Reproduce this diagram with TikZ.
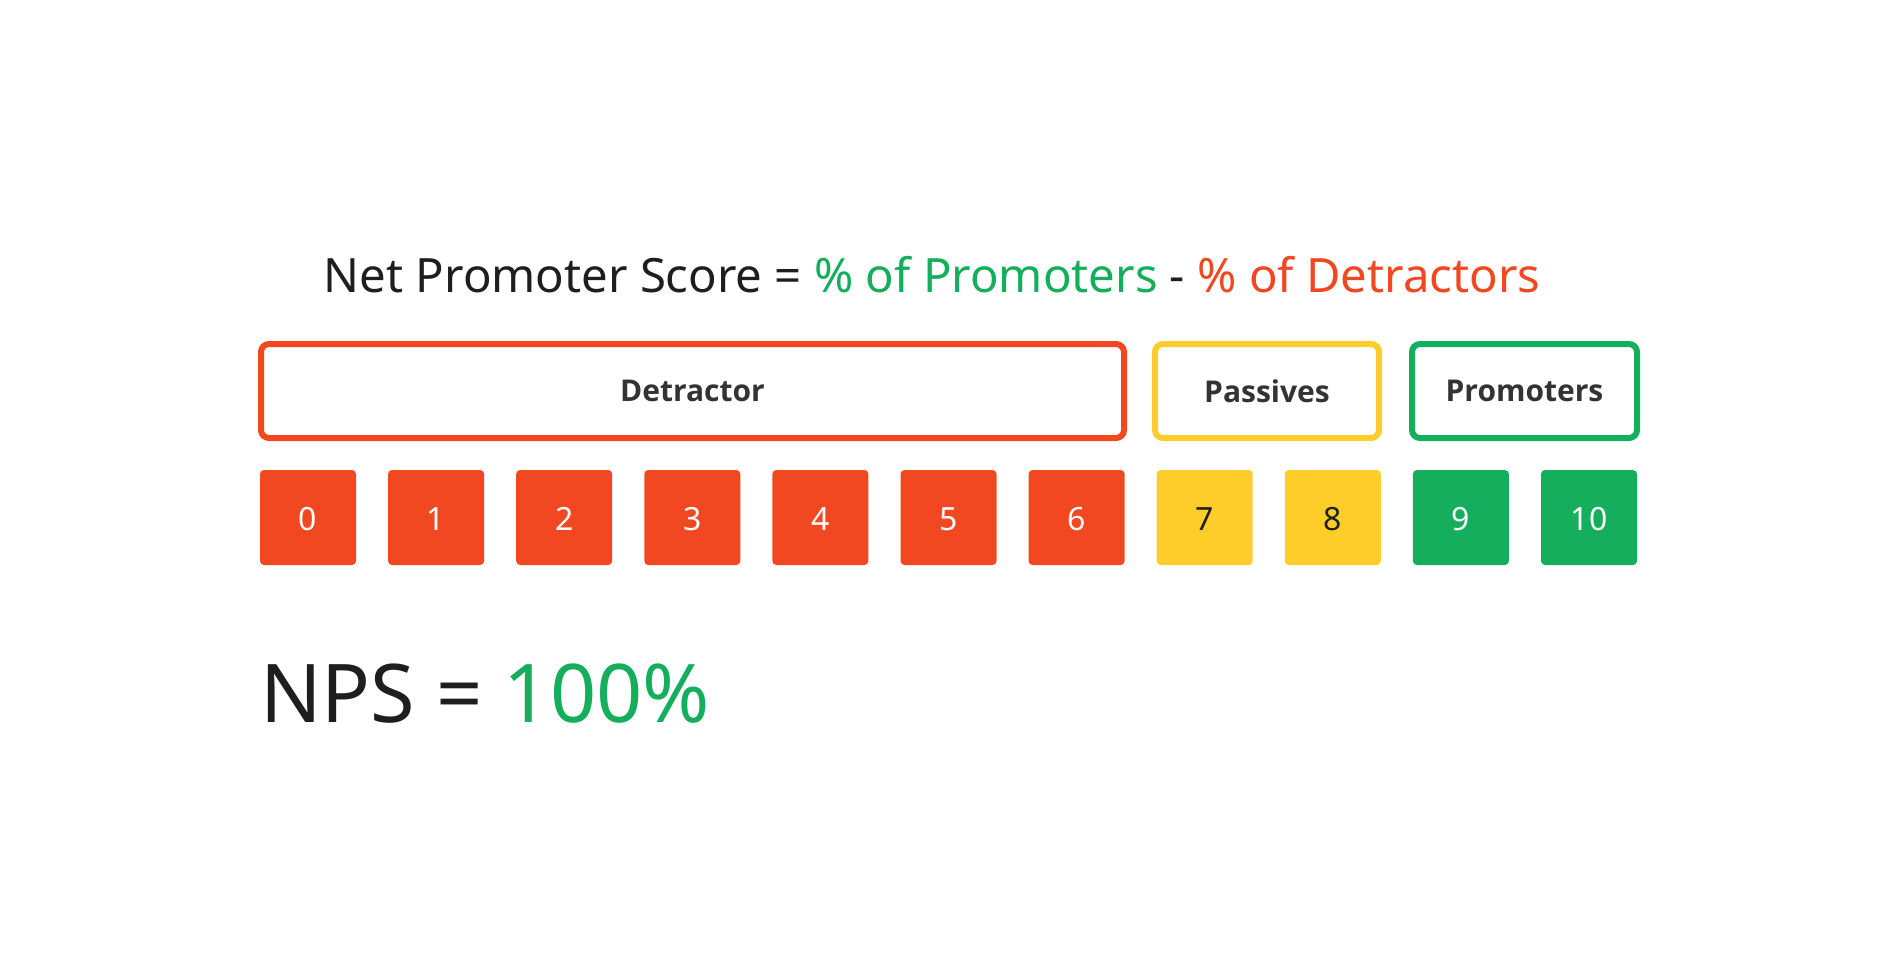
\documentclass[tikz,border=0pt]{standalone}
\usepackage{fontspec}
\setmainfont{Noto Sans}
\newfontfamily\lblfont{Open Sans}
\definecolor{npsred}{HTML}{F24822}
\definecolor{npsyellow}{HTML}{FFCD29}
\definecolor{npsgreen}{HTML}{14AE5C}
\definecolor{npsdark}{HTML}{1E1E1E}
\definecolor{npslabel}{HTML}{333333}
\tikzset{
  groupbox/.style={draw=#1, line width=6pt, rounded corners=8pt, fill=white, inner sep=0pt, text=npslabel, font=\fontsize{30}{36}\lblfont\bfseries},
  tile/.style={fill=#1, rounded corners=4pt, minimum width=96pt, minimum height=95pt, inner sep=0pt, text depth=0pt, font=\fontsize{32}{36}\selectfont},
}
\begin{document}
\begin{tikzpicture}[x=1pt,y=-1pt]
\useasboundingbox[fill=white] (0,0) rectangle (1896,978);
\node[anchor=base, text=npsdark, font=\fontsize{47.3}{56}\selectfont] (title) at (932,292)
  {Net Promoter Score = \textcolor{npsgreen}{\% of Promoters} - \textcolor{npsred}{\% of Detractors}};
\node[groupbox=npsred, minimum width=863pt, minimum height=94pt] (det) at (692.5,391) {Detractor};
\node[groupbox=npsyellow, minimum width=224pt, minimum height=94pt] (pas) at (1267,391) {Passives};
\node[groupbox=npsgreen, minimum width=225pt, minimum height=94pt] (pro) at (1524.5,391) {Promoters};
\foreach \i in {0,...,6}{
  \node[tile=npsred, text=white] (t\i) at ({308+128.1*\i},517.5) {\raisebox{-2.5pt}{\i}};
}
\foreach \i in {7,8}{
  \node[tile=npsyellow, text=npsdark] (t\i) at ({308+128.1*\i},517.5) {\raisebox{-2.5pt}{\i}};
}
\foreach \i in {9,10}{
  \node[tile=npsgreen, text=white] (t\i) at ({308+128.1*\i},517.5) {\raisebox{-2.5pt}{\i}};
}
\node[anchor=base west, inner sep=0pt, text=npsdark, font=\fontsize{81}{90}\selectfont] (nps) at (260,722)
  {NPS = \textcolor{npsgreen}{100\%}};
\end{tikzpicture}
\end{document}
